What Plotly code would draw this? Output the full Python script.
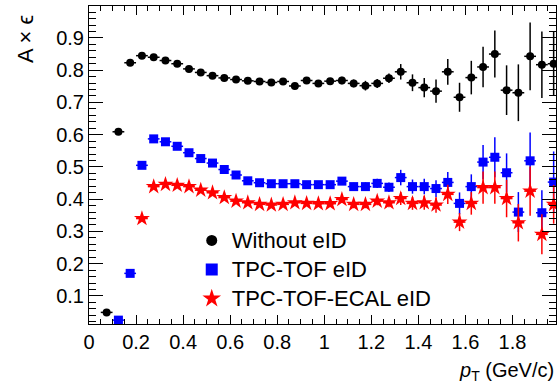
import plotly.graph_objects as go

# bin centres (GeV/c)
pt = [0.075, 0.125, 0.175, 0.225, 0.275, 0.325, 0.375, 0.425, 0.475, 0.525,
      0.575, 0.625, 0.675, 0.725, 0.775, 0.825, 0.875, 0.925, 0.975, 1.025,
      1.075, 1.125, 1.175, 1.225, 1.275, 1.325, 1.375, 1.425, 1.475, 1.525,
      1.575, 1.625, 1.675, 1.725, 1.775, 1.825, 1.875, 1.925, 1.975]
pt_halfwidth = [0.025] * len(pt)

# Without eID
noeid = [0.049, 0.609, 0.823, 0.845, 0.840, 0.830, 0.820, 0.804, 0.793, 0.783,
         0.776, 0.771, 0.767, 0.765, 0.762, 0.765, 0.751, 0.768, 0.759, 0.766,
         0.768, 0.759, 0.752, 0.759, 0.775, 0.795, 0.761, 0.746, 0.735, 0.795,
         0.716, 0.777, 0.810, 0.850, 0.738, 0.730, 0.843, 0.817, 0.820]
noeid_err = [0.004, 0.004, 0.004, 0.004, 0.004, 0.004, 0.004, 0.005, 0.005, 0.005,
             0.005, 0.005, 0.006, 0.006, 0.006, 0.006, 0.007, 0.008, 0.008, 0.009,
             0.012, 0.012, 0.015, 0.014, 0.015, 0.024, 0.026, 0.030, 0.036, 0.040,
             0.045, 0.052, 0.063, 0.073, 0.077, 0.088, 0.105, 0.103, 0.100]

# TPC-TOF eID
tpctof = [None, 0.025, 0.170, 0.505, 0.587, 0.578, 0.564, 0.544, 0.526, 0.512,
          0.492, 0.475, 0.457, 0.451, 0.448, 0.448, 0.448, 0.445, 0.445, 0.445,
          0.456, 0.439, 0.439, 0.449, 0.437, 0.467, 0.439, 0.439, 0.433, 0.452,
          0.387, 0.439, 0.515, 0.530, 0.482, 0.360, 0.519, 0.358, 0.453]
tpctof_err = [0.0, 0.004, 0.004, 0.004, 0.004, 0.004, 0.004, 0.005, 0.005, 0.005,
              0.005, 0.005, 0.006, 0.006, 0.006, 0.006, 0.007, 0.008, 0.008, 0.009,
              0.012, 0.012, 0.013, 0.014, 0.015, 0.024, 0.022, 0.024, 0.026, 0.032,
              0.034, 0.038, 0.053, 0.062, 0.060, 0.062, 0.088, 0.070, 0.095]

# TPC-TOF-ECAL eID
ecal = [None, None, None, 0.340, 0.439, 0.446, 0.443, 0.439, 0.428, 0.420,
        0.405, 0.394, 0.389, 0.384, 0.382, 0.384, 0.389, 0.387, 0.386, 0.386,
        0.399, 0.384, 0.384, 0.394, 0.389, 0.402, 0.387, 0.389, 0.382, 0.415,
        0.329, 0.387, 0.436, 0.436, 0.402, 0.327, 0.425, 0.291, 0.384]
ecal_err = [0.0, 0.0, 0.0, 0.004, 0.004, 0.004, 0.004, 0.005, 0.005, 0.005,
            0.005, 0.005, 0.006, 0.006, 0.006, 0.006, 0.007, 0.008, 0.008, 0.009,
            0.011, 0.012, 0.012, 0.013, 0.014, 0.020, 0.020, 0.022, 0.024, 0.030,
            0.028, 0.035, 0.050, 0.050, 0.058, 0.058, 0.076, 0.062, 0.060]

labels = ["Without eID", "TPC-TOF eID", "TPC-TOF-ECAL eID"]
colors = ["black", "#0000ff", "#ff0000"]
symbols = ["circle", "square", "star"]
FONT = "Liberation Sans, Arial, Helvetica, sans-serif"

fig = go.Figure()
series = [(noeid, noeid_err, 8, 0), (tpctof, tpctof_err, 9, 1), (ecal, ecal_err, 12, 2)]
for yv, ye, msize, i in series:
    fig.add_trace(go.Scatter(
        x=pt, y=yv, mode="markers", showlegend=False,
        marker=dict(symbol=symbols[i], size=msize, color=colors[i], line=dict(width=0)),
        error_x=dict(type="data", array=pt_halfwidth, width=0, thickness=1.5, color=colors[i]),
        error_y=dict(type="data", array=ye, width=0, thickness=1.5, color=colors[i]),
    ))
# legend entries
leg_sizes = [11, 12, 14]
for i in range(3):
    fig.add_trace(go.Scatter(
        x=[None], y=[None], mode="markers",
        name="<span style='font-size:22px'>" + labels[i] + "</span>",
        legendgroup=str(i),
        marker=dict(symbol=symbols[i], size=leg_sizes[i], color=colors[i], line=dict(width=0)),
    ))

axis_common = dict(
    showline=True, linecolor="black", linewidth=1, mirror="ticks",
    ticks="inside", tickcolor="black", showgrid=False, zeroline=False,
    tickfont=dict(family=FONT, size=20, color="black"),
)
fig.update_xaxes(range=[0, 1.985], dtick=0.2, tick0=0, ticklen=9,
                 minor=dict(dtick=0.05, ticks="inside", ticklen=5, tickcolor="black", showgrid=False),
                 **axis_common)
fig.update_yaxes(range=[0.013, 0.999], dtick=0.1, tick0=0, ticklen=14,
                 minor=dict(dtick=0.02, ticks="inside", ticklen=7, tickcolor="black", showgrid=False),
                 **axis_common)

fig.add_annotation(text="<i>p</i><sub>T</sub> (GeV/c)", xref="paper", yref="paper",
                   x=1.0, y=-0.148, xanchor="right", yanchor="middle", showarrow=False,
                   font=dict(family=FONT, size=20, color="black"))
fig.add_annotation(text="A × ϵ", xref="paper", yref="paper", textangle=-90,
                   x=-0.135, y=0.978, xanchor="center", yanchor="top", showarrow=False,
                   font=dict(family=FONT, size=22, color="black"))

fig.update_layout(
    width=557, height=384,
    margin=dict(l=89, r=1, t=6, b=60),
    paper_bgcolor="white", plot_bgcolor="white",
    font=dict(family=FONT, size=20, color="black"),
    legend=dict(x=0.22, y=0.324, xanchor="left", yanchor="top",
                bgcolor="rgba(0,0,0,0)", font=dict(family=FONT, size=20, color="black"),
                tracegroupgap=0),
)

fig.write_html("out.html")
